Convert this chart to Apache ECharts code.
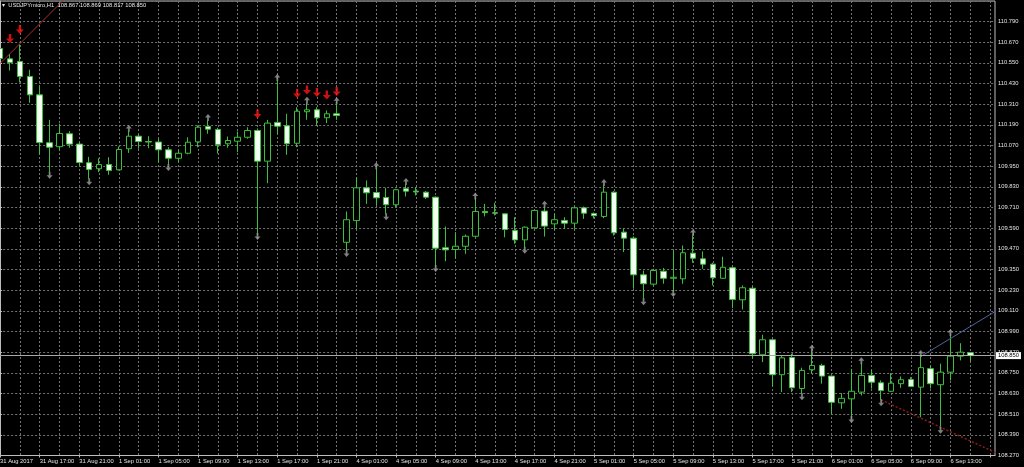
<!DOCTYPE html>
<html>
<head>
<meta charset="utf-8">
<script src="https://cdn.jsdelivr.net/npm/echarts@6/dist/echarts.min.js"></script>
<style>
html,body{margin:0;padding:0;background:#000;}
#chart{width:1024px;height:467px;}
</style>
</head>
<body>
<div id="chart"></div>
<script>
// ---- DATA ----
const chartTitle = '\u25BE  USDJPYmicro,H1  108.867 108.869 108.817 108.850';
const firstTickLabel = '31 Aug 2017';
// trading sessions shown (day label, first hour, last hour)
const sessions = [['31 Aug', 13, 23], ['1 Sep', 0, 23], ['4 Sep', 0, 23], ['5 Sep', 0, 23], ['6 Sep', 0, 15]];
const emptySlotsRight = 2;

const opens = [
110.633,110.573,110.558,110.471,110.364,110.086,110.063,110.138,110.078,109.970,
109.935,109.960,109.929,110.051,110.124,110.093,110.090,110.045,109.996,110.025,
110.091,110.181,110.163,110.080,110.095,110.118,110.157,109.979,110.204,110.184,
110.083,110.266,110.277,110.231,110.254,109.508,109.634,109.824,109.797,109.768,
109.726,109.819,109.805,109.799,109.770,109.476,109.466,109.485,109.543,109.687,
109.680,109.673,109.576,109.522,109.592,109.689,109.615,109.635,109.619,109.708,
109.675,109.658,109.799,109.567,109.532,109.319,109.265,109.340,109.299,109.296,
109.445,109.412,109.381,109.299,109.360,109.174,109.241,108.855,108.942,108.739,
108.839,108.659,108.768,108.793,108.731,108.576,108.599,108.638,108.735,108.692,
108.643,108.687,108.711,108.667,108.774,108.681,108.754,108.847,108.867];
const closes = [
110.575,110.552,110.471,110.364,110.087,110.060,110.140,110.078,109.971,109.931,
109.960,109.925,110.047,110.124,110.093,110.090,110.045,109.996,110.025,110.089,
110.176,110.165,110.076,110.099,110.118,110.157,109.979,110.200,110.182,110.080,
110.269,110.277,110.231,110.254,110.244,109.639,109.824,109.795,109.766,109.726,
109.813,109.805,109.800,109.770,109.474,109.464,109.485,109.543,109.687,109.680,
109.677,109.582,109.522,109.596,109.693,109.602,109.639,109.619,109.708,109.677,
109.662,109.799,109.563,109.532,109.319,109.267,109.344,109.299,109.305,109.447,
109.416,109.381,109.302,109.363,109.176,109.244,108.861,108.942,108.739,108.837,
108.663,108.764,108.793,108.731,108.579,108.602,108.643,108.735,108.696,108.647,
108.690,108.710,108.671,108.780,108.687,108.754,108.847,108.870,108.850];
const lows = [
110.520,110.505,110.436,110.318,110.016,109.915,110.041,110.057,109.950,109.877,
109.915,109.900,109.925,110.027,110.051,110.054,109.973,109.960,109.973,110.019,
110.060,110.138,110.023,110.057,110.031,110.109,109.559,109.851,110.138,110.016,
110.060,110.219,110.186,110.200,110.219,109.460,109.586,109.731,109.722,109.673,
109.712,109.774,109.780,109.760,109.373,109.398,109.412,109.441,109.537,109.658,
109.664,109.537,109.499,109.479,109.586,109.541,109.580,109.586,109.586,109.644,
109.646,109.648,109.547,109.451,109.238,109.180,109.257,109.267,109.228,109.267,
109.389,109.354,109.257,109.296,109.125,109.118,108.832,108.812,108.672,108.638,
108.638,108.629,108.745,108.687,108.512,108.541,108.496,108.619,108.659,108.593,
108.638,108.663,108.667,108.492,108.659,108.434,108.706,108.822,108.817];
const highs = [
110.680,110.602,110.656,110.510,110.418,110.219,110.196,110.153,110.089,110.004,
109.996,110.002,110.064,110.151,110.134,110.124,110.109,110.060,110.041,110.118,
110.186,110.215,110.173,110.122,110.151,110.176,110.169,110.219,110.447,110.254,
110.292,110.316,110.292,110.273,110.312,109.687,109.886,109.867,109.935,109.824,
109.819,109.844,109.828,109.805,109.774,109.600,109.567,109.553,109.760,109.731,
109.737,109.677,109.654,109.600,109.697,109.712,109.673,109.654,109.716,109.716,
109.681,109.838,109.805,109.590,109.542,109.344,109.354,109.359,109.460,109.489,
109.547,109.455,109.389,109.424,109.365,109.257,109.250,108.971,108.945,108.851,
108.861,108.780,108.876,108.803,108.735,108.632,108.773,108.803,108.768,108.706,
108.748,108.729,108.725,108.845,108.793,108.803,108.967,108.922,108.869];

// fractal markers (bar indexes)
const fractalUpIdx = [13, 21, 28, 31, 34, 38, 41, 48, 55, 61, 70, 82, 87, 93, 96];
const fractalDownIdx = [5, 9, 17, 26, 35, 39, 44, 53, 65, 68, 81, 86, 89, 95];
// red signal arrows
const signalIdx = [1, 2, 26, 30, 31, 32, 33, 34];
const signalPrice = [110.691, 110.744, 110.253, 110.372, 110.392, 110.378, 110.363, 110.383];
// trend lines: [barIndex, price] endpoints
const trendRed = [[0, 110.546], [7, 110.949]];
const trendBlue = [[93, 108.845], [101, 109.123]];
const trendRedDotted = [[89, 108.593], [101, 108.275]];
const lastPrice = 108.850;

// axis range
const priceMin = 108.27, priceMax = 110.909, priceStep = 0.12;

// ---- BUILD ----
const categories = [];
sessions.forEach(([d, h0, h1]) => {
  for (let h = h0; h <= h1; h++) categories.push(d + ' ' + (h < 10 ? '0' : '') + h + ':00');
});
for (let i = 0; i < emptySlotsRight; i++) categories.push('');
const nCat = categories.length;

const candleData = opens.map((o, i) => [o, closes[i], lows[i], highs[i]]);
const upData = fractalUpIdx.map(k => [k, highs[k]]);
const downData = fractalDownIdx.map(k => [k, lows[k]]);
const sigData = signalIdx.map((k, i) => [k, signalPrice[i]]);

const FONT = 'Liberation Sans';
const txt = '#e4e4e4';
const frame = '#bdbdbd';
const gridCol = '#737373';
const green = '#3cbf3c';
const upArrow = 'path://M5,0 L10,5 L6.5,5 L6.5,10 L3.5,10 L3.5,5 L0,5 Z';
const downArrow = 'path://M3.5,0 L6.5,0 L6.5,5 L10,5 L5,10 L0,5 L3.5,5 Z';

const chart = echarts.init(document.getElementById('chart'), null, {renderer: 'canvas'});
chart.setOption({
  backgroundColor: '#000',
  animation: false,
  title: {
    text: chartTitle, left: 2, top: 2, padding: 0,
    textStyle: {color: txt, fontSize: 5.8, fontWeight: 'normal', fontFamily: FONT}
  },
  grid: {
    left: -4.85, right: 29, top: 1, bottom: 11.5,
    show: true, borderColor: frame, borderWidth: 1,
    containLabel: false, outerBoundsMode: 'none'
  },
  xAxis: [{
    type: 'category', data: categories, boundaryGap: true, gridIndex: 0,
    axisLine: {show: true, lineStyle: {color: frame}},
    axisTick: {show: true, interval: 3, alignWithLabel: true, length: 2, lineStyle: {color: frame}},
    axisLabel: {
      interval: 3, align: 'left', color: txt, fontSize: 5.8, fontFamily: FONT, margin: 3,
      formatter: (v, i) => (i === 0 ? firstTickLabel : v)
    },
    splitLine: {show: true, interval: 1, alignWithLabel: true, lineStyle: {color: gridCol, type: [2, 2], width: 1}}
  }, {
    type: 'value', gridIndex: 0, min: -0.5, max: nCat - 0.5, show: false
  }],
  yAxis: {
    type: 'value', position: 'right', min: priceMin, max: priceMax, interval: priceStep,
    axisLine: {show: true, lineStyle: {color: frame}},
    axisTick: {show: true, length: 2, lineStyle: {color: frame}},
    axisLabel: {
      color: txt, fontSize: 5.8, fontFamily: FONT, margin: 3, showMaxLabel: false,
      formatter: v => v.toFixed(3)
    },
    splitLine: {show: true, lineStyle: {color: gridCol, type: [2, 2], width: 1}}
  },
  series: [{
    type: 'candlestick', xAxisIndex: 0, yAxisIndex: 0,
    data: candleData, barWidth: 6,
    itemStyle: {color: '#000', color0: '#f4fff4', borderColor: green, borderColor0: green, borderColorDoji: green, borderWidth: 1},
    markLine: {
      silent: true, symbol: 'none', animation: false,
      data: [{yAxis: lastPrice}],
      lineStyle: {color: '#a8a8a8', width: 1, type: 'solid'},
      label: {
        position: 'end', distance: 1, formatter: lastPrice.toFixed(3),
        backgroundColor: '#fff', color: '#000', fontSize: 5.8, fontFamily: FONT, padding: [1, 2, 0, 2]
      }
    }
  }, {
    type: 'line', xAxisIndex: 1, data: trendRed, symbol: 'none', clip: true, z: 3,
    lineStyle: {color: '#a82e2e', width: 1}
  }, {
    type: 'line', xAxisIndex: 1, data: trendBlue, symbol: 'none', clip: true, z: 3,
    lineStyle: {color: '#51649c', width: 1}
  }, {
    type: 'line', xAxisIndex: 1, data: trendRedDotted, symbol: 'none', clip: true, z: 3,
    lineStyle: {color: '#8e1c1c', width: 1.5, type: [2, 2]}
  }, {
    type: 'scatter', xAxisIndex: 0, data: upData, symbol: upArrow, symbolSize: [6, 7],
    symbolOffset: [0, -3], itemStyle: {color: '#a0a0a0'}, z: 4, silent: true
  }, {
    type: 'scatter', xAxisIndex: 0, data: downData, symbol: downArrow, symbolSize: [6, 7],
    symbolOffset: [0, 3], itemStyle: {color: '#a0a0a0'}, z: 4, silent: true
  }, {
    type: 'scatter', xAxisIndex: 0, data: sigData, symbol: downArrow, symbolSize: [8, 9],
    itemStyle: {color: '#ff1414'}, z: 5, silent: true
  }]
});
</script>
</body>
</html>
